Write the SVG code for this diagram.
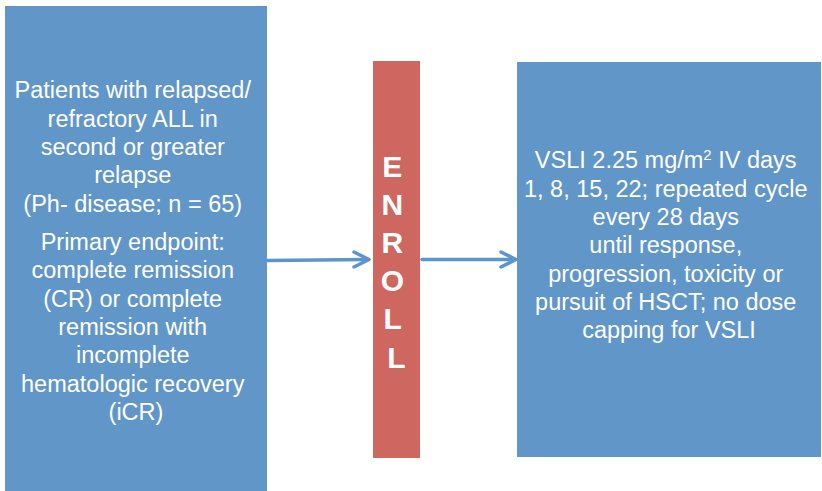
<svg xmlns="http://www.w3.org/2000/svg" width="822" height="491" viewBox="0 0 822 491">
<style>
.box{fill:#6196c9}
.bar{fill:#cd675f}
.t{font-family:"Liberation Sans",Arial,sans-serif;font-size:23.5px;fill:#ffffff;text-anchor:middle}
.e{font-family:"Liberation Sans",Arial,sans-serif;font-size:30px;font-weight:bold;fill:#ffffff;text-anchor:middle}
.c{stroke:#5b95cc;stroke-width:3.5;fill:none;stroke-linecap:round;stroke-linejoin:round}
</style>
<rect width="822" height="491" fill="#ffffff"/>
<g id="patients">
<rect class="box" x="5" y="6" width="262" height="485"/>
<text class="t">
<tspan x="136" y="98">Patients with relapsed/</tspan>
<tspan x="136" y="127">refractory ALL in</tspan>
<tspan x="136" y="155">second or greater</tspan>
<tspan x="136" y="183">relapse</tspan>
<tspan x="136" y="212">(Ph- disease; n = 65)</tspan>
<tspan x="136" y="250">Primary endpoint:</tspan>
<tspan x="136" y="278">complete remission</tspan>
<tspan x="136" y="307">(CR) or complete</tspan>
<tspan x="136" y="335">remission with</tspan>
<tspan x="136" y="363">incomplete</tspan>
<tspan x="136" y="392">hematologic recovery</tspan>
<tspan x="136" y="420">(iCR)</tspan>
</text>
</g>
<g id="enroll">
<rect class="bar" x="373" y="61" width="47" height="397"/>
<text class="e">
<tspan x="396.5" y="177">E</tspan>
<tspan x="396.5" y="215">N</tspan>
<tspan x="396.5" y="253">R</tspan>
<tspan x="396.5" y="291">O</tspan>
<tspan x="396.5" y="329">L</tspan>
<tspan x="396.5" y="368">L</tspan>
</text>
</g>
<g id="treatment">
<rect class="box" x="517" y="62" width="304" height="395"/>
<text class="t">
<tspan x="669" y="168">VSLI 2.25 mg/m<tspan font-size="15px" dy="-8.5">2</tspan><tspan dy="8.5"> IV days</tspan></tspan>
<tspan x="669" y="197">1, 8, 15, 22; repeated cycle</tspan>
<tspan x="669" y="225">every 28 days</tspan>
<tspan x="669" y="253">until response,</tspan>
<tspan x="669" y="282">progression, toxicity or</tspan>
<tspan x="669" y="310">pursuit of HSCT; no dose</tspan>
<tspan x="669" y="338">capping for VSLI</tspan>
</text>
</g>
<g id="connectors">
<path class="c" d="M267 260.5 L368 259.5"/>
<path class="c" d="M354 252 L369 259.5 L354 267"/>
<path class="c" d="M422 259.5 L515 259.5"/>
<path class="c" d="M501 252 L516 259.5 L501 267"/>
</g>
</svg>
